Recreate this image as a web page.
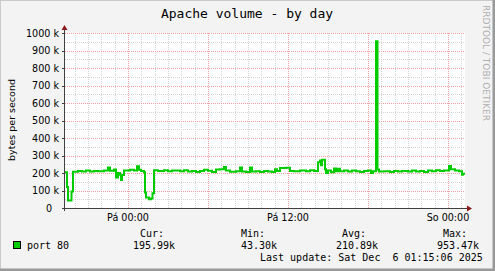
<!DOCTYPE html>
<html>
<head>
<meta charset="utf-8">
<script src="https://cdn.jsdelivr.net/npm/d3@7"></script>
<style>
  body { margin: 0; background: #f3f3f3; }
  svg { display: block; }
  .mono { font-family: "DejaVu Sans Mono", monospace; }
  .sans { font-family: "DejaVu Sans", sans-serif; }
</style>
</head>
<body>
<script>
const width = 495;
const height = 271;

// minutes relative to Fri 5 Dec 2025 00:00, value in k (bytes/s)
const minutes = [
  -283.5, -274.5, -270, -254.25, -247.5, -225, -207, -189, -171, -153,
  -135, -108, -90, -81, -63, -54, -45, -36, -31.5, -27,
  -18, 9, 27, 40.5, 49.5, 58.5, 72, 76.5, 81, 94.5,
  103.5, 110.25, 117, 135, 162, 180, 198, 216, 234, 252,
  270, 288, 306, 324, 342, 360, 378, 396, 414, 432,
  441, 459, 486, 504, 513, 531, 549, 558, 576, 594,
  612, 630, 648, 661.5, 670.5, 684, 711, 729, 747, 774,
  801, 819, 837, 855, 864, 868.5, 873, 886.5, 891, 900,
  913.5, 927, 936, 945, 954, 972, 990, 1008, 1026, 1044,
  1062, 1080, 1093.5, 1102.5, 1116, 1122.75, 1129.5, 1152, 1179, 1197,
  1215, 1233, 1260, 1278, 1296, 1314, 1332, 1350, 1368, 1386,
  1404, 1422, 1444.5, 1453.5, 1471.5, 1489.5, 1503, 1507, 1516.5
];
const values = [
  205, 120, 43.3, 95, 207, 212, 209, 214, 208, 212,
  210, 214, 232, 213, 220, 175, 200, 190, 160, 188,
  214, 218, 215, 238, 218, 212, 205, 88, 60, 50,
  55, 85, 216, 212, 216, 210, 214, 215, 210, 216,
  209, 212, 206, 212, 218, 213, 206, 220, 222, 234,
  214, 207, 210, 232, 208, 206, 232, 208, 210, 206,
  212, 209, 206, 222, 212, 228, 230, 212, 210, 214,
  210, 216, 212, 262, 272, 245, 276, 222, 200, 214,
  205, 226, 210, 224, 210, 214, 209, 214, 210, 206,
  212, 214, 200, 210, 953.47, 220, 208, 210, 206, 212,
  208, 212, 208, 214, 209, 212, 206, 214, 210, 216,
  212, 215, 240, 222, 214, 210, 190, 196, 196
];

const yTicks = [0, 100, 200, 300, 400, 500, 600, 700, 800, 900, 1000];
const dayNames = ["Ne", "Po", "Út", "St", "Čt", "Pá", "So"];

const legendHeads = ["Cur:", "Min:", "Avg:", "Max:"];
const legendValues = ["195.99k", "43.30k", "210.89k", "953.47k"];
const seriesName = "port 80";
const lastUpdate = "Last update: Sat Dec  6 01:15:06 2025";

const base = new Date(2025, 11, 5, 0, 0, 0);
const toDate = (m) => new Date(base.getTime() + m * 60000);
const data = minutes.map((m, i) => ({ t: toDate(m), v: values[i] }));

const plot = { left: 65, right: 465, top: 33, bottom: 208 };

let svg = d3
  .select("body")
  .append("svg")
  .attr("width", width)
  .attr("height", height);

// background + bevel frame
svg.append("rect").attr("width", width).attr("height", height).attr("fill", "#f3f3f3");
svg.append("path").attr("d", `M0,${height} V0 H${width}`).attr("fill", "none")
  .attr("stroke", "#cbcbcb").attr("stroke-width", 2);
svg.append("path").attr("d", `M0,${height - 1} H${width - 1} V0`).attr("fill", "none")
  .attr("stroke", "#999999").attr("stroke-width", 3);

let x = d3
  .scaleTime()
  .domain([toDate(-283.5), toDate(1516.5)])
  .range([plot.left, plot.right]);

let y = d3
  .scaleLinear()
  .domain([0, 1000])
  .range([plot.bottom, plot.top]);

svg.append("rect")
  .attr("x", plot.left).attr("y", plot.top)
  .attr("width", plot.right - plot.left).attr("height", plot.bottom - plot.top)
  .attr("fill", "#ffffff");

let grid = svg.append("g").attr("shape-rendering", "crispEdges");

// minor grid
grid.selectAll(".vmin")
  .data(x.ticks(d3.timeHour.every(1)))
  .join("line")
  .attr("x1", (d) => Math.round(x(d)) + 0.5).attr("x2", (d) => Math.round(x(d)) + 0.5)
  .attr("y1", plot.top).attr("y2", plot.bottom)
  .attr("stroke", "#d4d4d4").attr("stroke-dasharray", "1,1");

grid.selectAll(".hmin")
  .data(d3.range(50, 1000, 100))
  .join("line")
  .attr("x1", plot.left).attr("x2", plot.right)
  .attr("y1", (d) => Math.round(y(d)) + 0.5).attr("y2", (d) => Math.round(y(d)) + 0.5)
  .attr("stroke", "#d4d4d4").attr("stroke-dasharray", "1,1");

// major grid
grid.selectAll(".vmaj")
  .data(x.ticks(d3.timeHour.every(6)))
  .join("line")
  .attr("x1", (d) => Math.round(x(d)) + 0.5).attr("x2", (d) => Math.round(x(d)) + 0.5)
  .attr("y1", plot.top).attr("y2", plot.bottom)
  .attr("stroke", "#eea0a0").attr("stroke-dasharray", "1,1");

grid.selectAll(".hmaj")
  .data(yTicks.filter((d) => d > 0))
  .join("line")
  .attr("x1", plot.left).attr("x2", plot.right)
  .attr("y1", (d) => Math.round(y(d)) + 0.5).attr("y2", (d) => Math.round(y(d)) + 0.5)
  .attr("stroke", "#eea0a0").attr("stroke-dasharray", "1,1");

// data line
let line = d3
  .line()
  .x((d) => x(d.t))
  .y((d) => y(d.v))
  .curve(d3.curveStepAfter);

svg.append("path")
  .datum(data)
  .attr("d", line)
  .attr("fill", "none")
  .attr("stroke", "#00cc00")
  .attr("stroke-width", 2);

// axes
let axes = svg.append("g").attr("shape-rendering", "crispEdges");
axes.append("line")
  .attr("x1", plot.left - 0.5).attr("x2", plot.left - 0.5)
  .attr("y1", plot.bottom + 3).attr("y2", plot.top - 4)
  .attr("stroke", "#404040");
axes.append("line")
  .attr("x1", plot.left - 3).attr("x2", plot.right + 2)
  .attr("y1", plot.bottom + 0.5).attr("y2", plot.bottom + 0.5)
  .attr("stroke", "#404040");

axes.selectAll(".ytick")
  .data(yTicks)
  .join("line")
  .attr("x1", plot.left - 3).attr("x2", plot.left)
  .attr("y1", (d) => Math.round(y(d)) + 0.5).attr("y2", (d) => Math.round(y(d)) + 0.5)
  .attr("stroke", "#404040");

svg.append("path")
  .attr("d", `M${plot.left - 3.5},${plot.top - 3} L${plot.left + 2.5},${plot.top - 3} L${plot.left - 0.5},${plot.top - 8} Z`)
  .attr("fill", "#8b1a1a");
svg.append("path")
  .attr("d", `M${plot.right + 2},${plot.bottom - 2.5} L${plot.right + 2},${plot.bottom + 3.5} L${plot.right + 7},${plot.bottom + 0.5} Z`)
  .attr("fill", "#8b1a1a");

// y tick labels
svg.selectAll(".ylab")
  .data(yTicks)
  .join("text")
  .attr("class", "sans")
  .attr("x", (d) => (d === 0 ? 52 : 59))
  .attr("y", (d) => y(d) + 3.5)
  .attr("text-anchor", "end")
  .attr("font-size", 9.6)
  .attr("fill", "#000")
  .text((d) => (d === 0 ? "0" : `${d} k`));

// x tick labels
const fmtTime = d3.timeFormat("%H:%M");
svg.selectAll(".xlab")
  .data(x.ticks(d3.timeHour.every(12)))
  .join("text")
  .attr("class", "sans")
  .attr("x", (d) => x(d))
  .attr("y", 221)
  .attr("text-anchor", "middle")
  .attr("font-size", 9.6)
  .attr("fill", "#000")
  .text((d) => `${dayNames[d.getDay()]} ${fmtTime(d)}`);

// titles
svg.append("text")
  .attr("class", "mono")
  .attr("x", 247).attr("y", 18)
  .attr("text-anchor", "middle")
  .attr("font-size", 13)
  .text("Apache volume - by day");

svg.append("text")
  .attr("class", "sans")
  .attr("transform", "translate(15,120) rotate(-90)")
  .attr("text-anchor", "middle")
  .attr("font-size", 9.5)
  .text("bytes per second");

svg.append("text")
  .attr("class", "sans")
  .attr("transform", "translate(483,5) rotate(90)")
  .attr("text-anchor", "start")
  .attr("font-size", 9)
  .attr("fill", "#b0b0b0")
  .text("RRDTOOL / TOBI OETIKER");

// legend
svg.append("rect")
  .attr("x", 13.5).attr("y", 241.5)
  .attr("width", 7).attr("height", 7)
  .attr("fill", "#00cc00").attr("stroke", "#000");

svg.append("text")
  .attr("class", "mono")
  .attr("x", 27).attr("y", 249)
  .attr("font-size", 10)
  .style("white-space", "pre")
  .text(seriesName);

const headX = [140, 241, 342, 443];
const valX = [133, 241, 336, 437];
svg.selectAll(".lhead")
  .data(legendHeads)
  .join("text")
  .attr("class", "mono")
  .attr("x", (d, i) => headX[i]).attr("y", 237)
  .attr("font-size", 10)
  .text((d) => d);

svg.selectAll(".lval")
  .data(legendValues)
  .join("text")
  .attr("class", "mono")
  .attr("x", (d, i) => valX[i]).attr("y", 249)
  .attr("font-size", 10)
  .text((d) => d);

svg.append("text")
  .attr("class", "mono")
  .attr("x", 260).attr("y", 261)
  .attr("font-size", 10)
  .attr("xml:space", "preserve")
  .style("white-space", "pre")
  .text(lastUpdate);
</script>
</body>
</html>
